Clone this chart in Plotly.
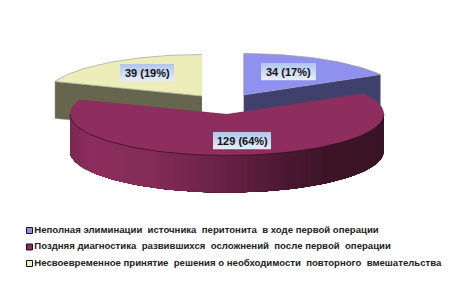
import math
import plotly.graph_objects as go

categories = [
    "Неполная элиминации  источника  перитонита  в ходе первой операции",
    "Поздняя диагностика  развившихся  осложнений  после первой  операции",
    "Несвоевременное принятие  решения о необходимости  повторного  вмешательства",
]
values = [34, 129, 39]
percents = [17, 64, 19]

TOP = ["#9090EE", "#8E2E5E", "#EDEDBA"]
WALL = ["#40406C", None, "#66664E"]
CENTERS = [(243.7, 95), (227, 114), (202, 96)]
A, B, DEPTH = 157, 41.5, 37
BOX = [(261, 63, 316, 80), (213, 132, 271, 149), (120, 64, 174, 81)]
LEG_Y = [230.5, 247, 263.5]
LEG_X = 29.5

total = sum(values)
bounds = [0]
for v in values:
    bounds.append(bounds[-1] + 360 * v / total)


def pt(c, deg, dy=0):
    r = math.radians(deg)
    return c[0] + A * math.sin(r), c[1] - B * math.cos(r) + dy


def arc(c, a0, a1, dy=0):
    n = max(2, int(abs(a1 - a0) / 2))
    return [pt(c, a0 + (a1 - a0) * i / n, dy) for i in range(n + 1)]


def poly(points, fill, line=None, width=0.6):
    return go.Scatter(
        x=[p[0] for p in points], y=[p[1] for p in points],
        mode="lines", fill="toself", fillcolor=fill,
        line=dict(color=line or fill, width=width if line else 0),
        hoverinfo="skip", showlegend=False,
    )


def mix(c1, c2, t):
    return "rgb(%d,%d,%d)" % tuple(round(c1[i] + (c2[i] - c1[i]) * t) for i in range(3))


def wall_colour(x):
    stops = [(69, (122, 40, 82)), (90, (140, 45, 92)), (150, (132, 44, 88)),
             (226, (104, 32, 70)), (290, (72, 24, 48)), (330, (60, 20, 38)), (390, (58, 20, 36))]
    for (x0, c0), (x1, c1) in zip(stops, stops[1:]):
        if x <= x1:
            return mix(c0, c1, max(0, (x - x0) / (x1 - x0)))
    return mix(stops[-1][1], stops[-1][1], 0)


fig = go.Figure()

# back slices: yellow (2), blue (0)
for i in (2, 0):
    c = CENTERS[i]
    a0, a1 = bounds[i], bounds[i + 1]
    edge = a1 if i == 0 else a0
    wall = [c, pt(c, edge), pt(c, edge, DEPTH), (c[0], c[1] + DEPTH)]
    fig.add_trace(poly(wall, WALL[i], "#A8A8A8" if i == 2 else "#9A9AB0", 0.5))
    fig.add_trace(poly([c] + arc(c, a0, a1), TOP[i], "#A0A0A0", 0.7))

# front slice wall: overlapping strips, each one painted over the previous
c = CENTERS[1]
a0, a1 = bounds[1], bounds[2]
lo, hi = 90, 270
step = 2.5
s = lo
while s < hi:
    up = arc(c, s, hi)
    fig.add_trace(poly(up + [(x, y + DEPTH) for x, y in reversed(up)],
                       wall_colour(pt(c, s + step / 2)[0])))
    s += step
fig.add_trace(poly([c] + arc(c, a0, a1), TOP[1]))
edge_pts = arc(c, lo, hi)
fig.add_trace(go.Scatter(
    x=[p[0] for p in edge_pts], y=[p[1] for p in edge_pts],
    mode="lines", line=dict(color="#3A1026", width=0.8),
    hoverinfo="skip", showlegend=False))

# label boxes with a vertical gradient
shapes = []
for (x0, y0, x1, y1) in BOX:
    n = int(y1 - y0)
    for k in range(n):
        shapes.append(dict(
            type="rect", xref="x", yref="y", layer="above",
            x0=x0, x1=x1, y0=y0 + k, y1=y0 + k + 1.2, line_width=0,
            fillcolor=mix((178, 198, 236), (232, 238, 250), k / n)))

annotations = []
for v, p, (x0, y0, x1, y1) in zip(values, percents, BOX):
    annotations.append(dict(
        x=(x0 + x1) / 2, y=(y0 + y1) / 2 + 0.5, xref="x", yref="y", showarrow=False,
        text=f"<b>{v} ({p}%)</b>", font=dict(family="Liberation Sans", size=11, color="#111"),
    ))

# legend
for name, col, y in zip(categories, TOP, LEG_Y):
    fig.add_trace(go.Scatter(
        x=[LEG_X], y=[y], mode="markers+text", text=[f"<b>{name}</b>"], textposition="middle right",
        textfont=dict(family="Liberation Sans", size=9.6, color="#222"),
        marker=dict(symbol="square", size=6, color=col, line=dict(color="#111", width=1)),
        hoverinfo="skip", showlegend=False,
    ))

fig.update_layout(
    width=463, height=297, margin=dict(l=0, r=0, t=0, b=0),
    paper_bgcolor="white", plot_bgcolor="white",
    xaxis=dict(range=[0, 463], visible=False, fixedrange=True),
    yaxis=dict(range=[297, 0], visible=False, fixedrange=True),
    shapes=shapes, annotations=annotations, showlegend=False,
)
fig.write_html("out.html", config={"displayModeBar": False},
               post_script="document.body.style.margin='0';document.documentElement.style.overflow='hidden';")
